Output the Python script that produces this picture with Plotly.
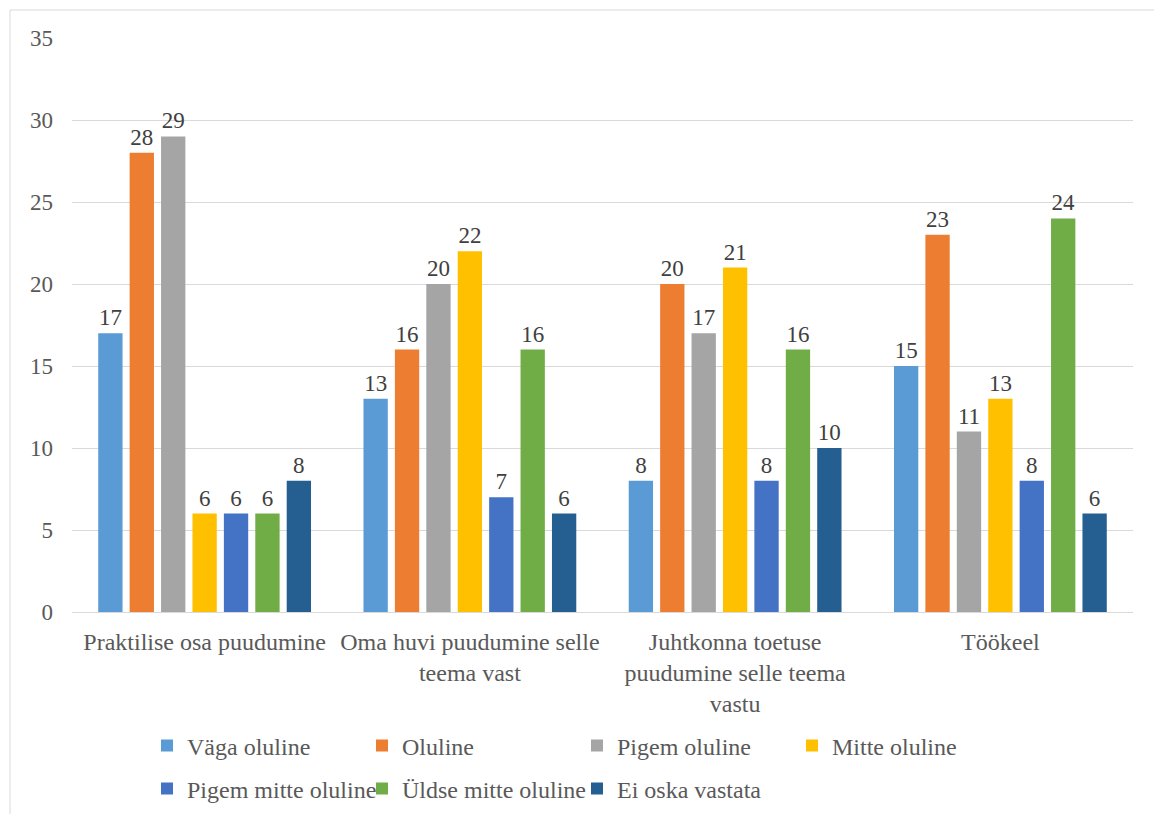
import plotly.graph_objects as go

categories = [
    "Praktilise osa puudumine",
    "Oma huvi puudumine selle<br>teema vast",
    "Juhtkonna toetuse<br>puudumine selle teema<br>vastu",
    "Töökeel",
]

series_names = [
    "Väga oluline",
    "Oluline",
    "Pigem oluline",
    "Mitte oluline",
    "Pigem mitte oluline",
    "Üldse mitte oluline",
    "Ei oska vastata",
]

vaga_oluline = [17, 13, 8, 15]
oluline = [28, 16, 20, 23]
pigem_oluline = [29, 20, 17, 11]
mitte_oluline = [6, 22, 21, 13]
pigem_mitte_oluline = [6, 7, 8, 8]
uldse_mitte_oluline = [6, 16, 16, 24]
ei_oska_vastata = [8, 6, 10, 6]

series_values = [
    vaga_oluline,
    oluline,
    pigem_oluline,
    mitte_oluline,
    pigem_mitte_oluline,
    uldse_mitte_oluline,
    ei_oska_vastata,
]

colors = ["#5B9BD5", "#ED7D31", "#A5A5A5", "#FFC000", "#4472C4", "#70AD47", "#255E91"]

y_ticks = [0, 5, 10, 15, 20, 25, 30, 35]

FONT = "Liberation Serif, Times New Roman, serif"

W, H = 1154, 814
L, R, T, B = 72, 21, 38, 202
plot_w = W - L - R
plot_h = H - T - B


def px_x(px):
    return (px - L) / plot_w


def px_y(py):
    return (H - B - py) / plot_h


fig = go.Figure()
for i, (name, vals, col) in enumerate(zip(series_names, series_values, colors)):
    fig.add_trace(
        go.Bar(
            name=name,
            x=categories,
            y=vals,
            marker=dict(color=col, line=dict(width=0)),
            text=[str(v) for v in vals],
            textposition="outside",
            textfont=dict(family=FONT, size=23, color="#404040"),
            cliponaxis=False,
            legend="legend" if i < 4 else "legend2",
        )
    )

legend_common = dict(
    orientation="h",
    xref="paper",
    yref="paper",
    xanchor="left",
    yanchor="middle",
    font=dict(family=FONT, size=24, color="#595959"),
    entrywidth=170,
    entrywidthmode="pixels",
    bgcolor="rgba(0,0,0,0)",
    itemclick=False,
)

fig.update_layout(
    width=W,
    height=H,
    margin=dict(l=L, r=R, t=T, b=B, pad=0, autoexpand=False),
    paper_bgcolor="white",
    plot_bgcolor="white",
    barmode="group",
    bargap=0.171,
    bargroupgap=0.226,
    font=dict(family=FONT, size=23, color="#595959"),
    legend=dict(x=px_x(147), y=px_y(746), **legend_common),
    legend2=dict(x=px_x(147), y=px_y(789), **legend_common),
    xaxis=dict(
        showgrid=False,
        showline=True,
        linecolor="#D9D9D9",
        linewidth=1,
        ticks="",
        tickfont=dict(family=FONT, size=24, color="#595959"),
        ticklabelstandoff=8,
        automargin=False,
    ),
    yaxis=dict(
        range=[0, 35],
        tickvals=y_ticks,
        showgrid=True,
        gridcolor="#D9D9D9",
        gridwidth=1,
        zeroline=False,
        showline=False,
        ticks="",
        tickfont=dict(family=FONT, size=23, color="#595959"),
        ticklabelstandoff=18,
        automargin=False,
    ),
    shapes=[
        dict(
            type="rect",
            xref="paper",
            yref="paper",
            x0=px_x(10),
            x1=px_x(1170),
            y0=px_y(830),
            y1=px_y(10),
            line=dict(color="#D9D9D9", width=1),
            fillcolor="rgba(0,0,0,0)",
            layer="below",
        )
    ],
)

fig.write_html("out.html")
